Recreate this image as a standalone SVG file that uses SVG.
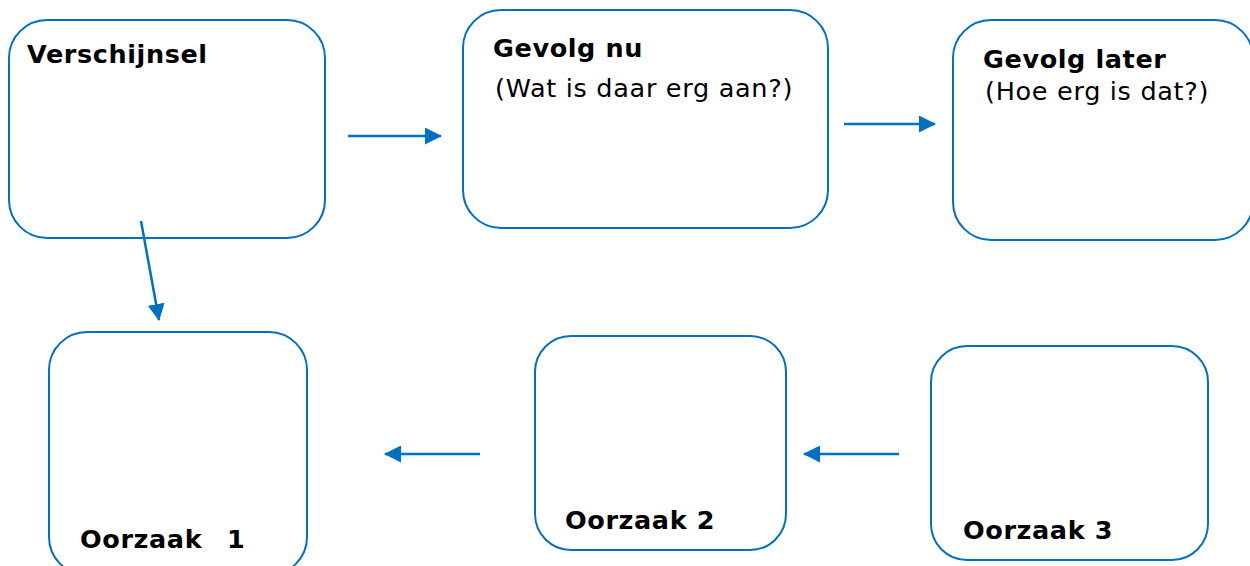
<svg xmlns="http://www.w3.org/2000/svg" width="1250" height="566" viewBox="0 0 1250 566">
<style>
.box{fill:#fff;stroke:#0070C0;stroke-width:2}
.con{stroke:#0070C0;stroke-width:2.5;fill:none;marker-end:url(#ah)}
.b{font-family:"DejaVu Sans",Verdana,sans-serif;font-weight:bold;font-size:25.5px;letter-spacing:0.6px;fill:#000}
.r{font-family:"DejaVu Sans",Verdana,sans-serif;font-size:25.5px;letter-spacing:0.7px;fill:#000}
</style>
<defs>
<marker id="ah" markerUnits="userSpaceOnUse" markerWidth="17" markerHeight="17" refX="16" refY="8.5" orient="auto" viewBox="0 0 17 17">
<path d="M0,0 L17,8.5 L0,17 z" fill="#0070C0"/>
</marker>
</defs>
<rect width="1250" height="566" fill="#fff"/>
<g id="verschijnsel">
<rect class="box" x="9" y="20" width="316" height="218" rx="38"/>
<text class="b" x="27" y="63">Verschijnsel</text>
</g>
<g id="gevolg-nu">
<rect class="box" x="463" y="10" width="365" height="218" rx="38"/>
<text class="b" x="493" y="57">Gevolg nu</text>
<text class="r" x="495" y="97">(Wat is daar erg aan?)</text>
</g>
<g id="gevolg-later">
<rect class="box" x="953" y="20" width="300" height="220" rx="38"/>
<text class="b" x="983" y="68">Gevolg later</text>
<text class="r" x="985" y="100">(Hoe erg is dat?)</text>
</g>
<g id="oorzaak-1">
<rect class="box" x="49" y="332" width="258" height="243" rx="38"/>
<text class="b" x="80" y="548">Oorzaak <tspan x="227">1</tspan></text>
</g>
<g id="oorzaak-2">
<rect class="box" x="535" y="336" width="251" height="214" rx="36"/>
<text class="b" x="565" y="529">Oorzaak 2</text>
</g>
<g id="oorzaak-3">
<rect class="box" x="931" y="346" width="277" height="214" rx="36"/>
<text class="b" x="963" y="539">Oorzaak 3</text>
</g>
<g id="connectors">
<line class="con" x1="348" y1="136" x2="441" y2="136"/>
<line class="con" x1="844" y1="124" x2="935" y2="124"/>
<line class="con" x1="141" y1="221" x2="159" y2="320"/>
<line class="con" x1="480" y1="454" x2="385" y2="454"/>
<line class="con" x1="899" y1="454" x2="804" y2="454"/>
</g>
</svg>
